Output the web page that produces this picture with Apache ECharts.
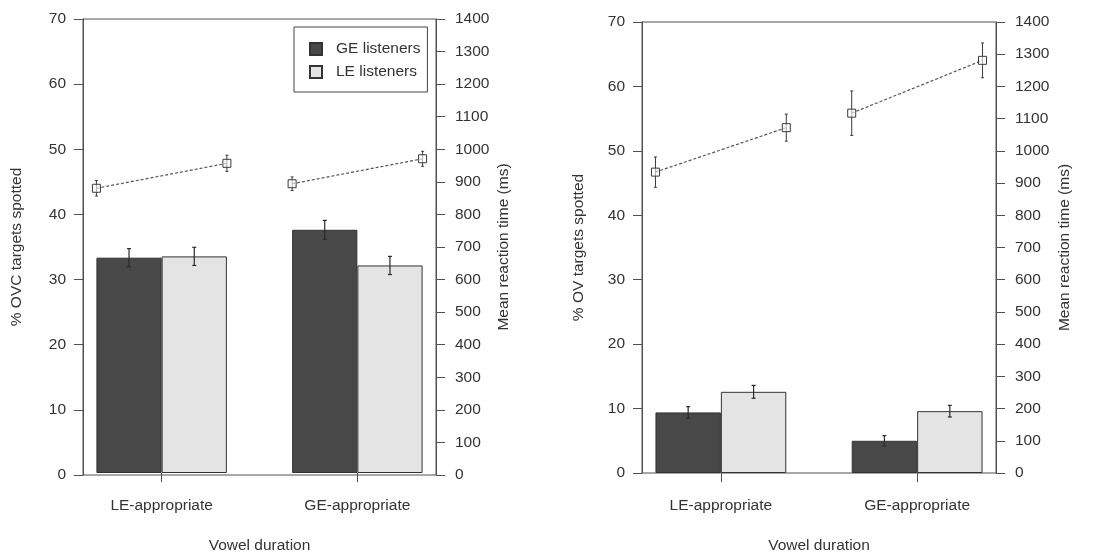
<!DOCTYPE html>
<html><head><meta charset="utf-8">
<script src="https://cdn.jsdelivr.net/npm/echarts@6/dist/echarts.min.js"></script>
<style>html,body{margin:0;padding:0;background:#fff}#c{width:1100px;height:559px}</style>
</head><body><div id="c"></div>
<script>
// ---- data ----
const categories = ['LE-appropriate', 'GE-appropriate'];
const seriesNames = ['GE listeners', 'LE listeners'];
const leftTicks = [0, 70, 10];      // min, max, interval
const rightTicks = [0, 1400, 100];

// left panel: % OVC targets spotted
const ovcGE = [33.2, 37.5];
const ovcGEErr = [1.4, 1.45];
const ovcLE = [33.4, 32.0];
const ovcLEErr = [1.4, 1.4];
const ovcRtGE = [878, 892];
const ovcRtGEErr = [24, 21];
const ovcRtLE = [955, 969];
const ovcRtLEErr = [25, 23];

// right panel: % OV targets spotted
const ovGE = [9.4, 5.0];
const ovGEErr = [0.9, 0.8];
const ovLE = [12.6, 9.6];
const ovLEErr = [1.0, 0.9];
const ovRtGE = [934, 1117];
const ovRtGEErr = [47, 69];
const ovRtLE = [1072, 1281];
const ovRtLEErr = [42, 54];

// ---- styles ----
const FONT = "'Liberation Sans', Arial, sans-serif";
const TXT = '#333';
const AX = '#505050';
const DARK = '#484848';
const LIGHT = '#e4e4e4';
const FS = 15.5;

const grids = [], xAxes = [], yAxes = [], series = [];

function panel(p) {
  const gA = grids.length;
  grids.push({left: p.boxLeft, width: p.boxWidth, top: p.top, height: p.height,
    show: true, borderColor: AX, borderWidth: 1, backgroundColor: 'transparent'});
  const gB = grids.length;
  const bandW = p.boxWidth * 391.4 / 353;
  const bLeft = p.boxLeft + p.boxWidth / 2 - bandW / 2;
  grids.push({left: bLeft, width: bandW, top: p.top, height: p.height});

  // grid A axes (visible frame axes)
  xAxes.push({type: 'category', gridIndex: gA, data: categories, show: false});
  yAxes.push({type: 'value', gridIndex: gA, position: 'left', min: leftTicks[0], max: leftTicks[1], interval: leftTicks[2],
    name: p.leftName, nameLocation: 'middle', nameRotate: 90, nameGap: p.leftGap,
    nameTextStyle: {color: TXT, fontSize: FS, fontFamily: FONT},
    axisLine: {show: true, lineStyle: {color: AX}}, axisTick: {show: true, length: 9, lineStyle: {color: AX}},
    axisLabel: {color: TXT, fontSize: FS, fontFamily: FONT, margin: 17}, splitLine: {show: false}});
  yAxes.push({type: 'value', gridIndex: gA, position: 'right', min: rightTicks[0], max: rightTicks[1], interval: rightTicks[2],
    name: 'Mean reaction time (ms)', nameLocation: 'middle', nameRotate: 90, nameGap: p.rightGap,
    nameTextStyle: {color: TXT, fontSize: FS, fontFamily: FONT},
    axisLine: {show: true, lineStyle: {color: AX}}, axisTick: {show: true, length: 9, lineStyle: {color: AX}},
    axisLabel: {color: TXT, fontSize: FS, fontFamily: FONT, margin: 19, formatter: v => String(v)}, splitLine: {show: false}});

  // grid B axes (data)
  const xB = xAxes.length;
  xAxes.push({type: 'category', gridIndex: gB, data: categories,
    name: 'Vowel duration', nameLocation: 'middle', nameGap: 65,
    nameTextStyle: {color: TXT, fontSize: FS, fontFamily: FONT},
    axisLine: {show: false}, axisTick: {show: true, alignWithLabel: true, length: 9, lineStyle: {color: AX}},
    axisLabel: {color: TXT, fontSize: FS, fontFamily: FONT, margin: 25}});
  const yB = yAxes.length;
  yAxes.push({type: 'value', gridIndex: gB, min: leftTicks[0], max: leftTicks[1], show: false, splitLine: {show: false}});
  const yBR = yAxes.length;
  yAxes.push({type: 'value', gridIndex: gB, min: rightTicks[0], max: rightTicks[1], show: false, splitLine: {show: false}});

  const barStyle = (c) => ({color: c, borderColor: '#333', borderWidth: 1});
  series.push({name: seriesNames[0], type: 'bar', xAxisIndex: xB, yAxisIndex: yB, data: p.ge,
    barWidth: '33.333%', barGap: '0%', itemStyle: barStyle(DARK), silent: true});
  series.push({name: seriesNames[1], type: 'bar', xAxisIndex: xB, yAxisIndex: yB, data: p.le,
    barWidth: '33.333%', barGap: '0%', itemStyle: barStyle(LIGHT), silent: true});

  // bar error bars
  const errData = [];
  categories.forEach((c, i) => {
    errData.push([i, p.ge[i], p.geErr[i], -1]);
    errData.push([i, p.le[i], p.leErr[i], 1]);
  });
  series.push({type: 'custom', xAxisIndex: xB, yAxisIndex: yB, data: errData, z: 5, silent: true,
    encode: {x: 0, y: 1},
    renderItem: function (params, api) {
      const idx = api.value(0), v = api.value(1), e = api.value(2), off = api.value(3);
      const band = api.size([1, 0])[0];
      const x = api.coord([idx, v])[0] + off * band / 6;
      const yt = api.coord([idx, v + e])[1], yb = api.coord([idx, v - e])[1];
      const st = {stroke: '#2a2a2a', lineWidth: 1.2};
      return {type: 'group', children: [
        {type: 'line', shape: {x1: x, y1: yt, x2: x, y2: yb}, style: st},
        {type: 'line', shape: {x1: x - 2, y1: yt, x2: x + 2, y2: yt}, style: st},
        {type: 'line', shape: {x1: x - 2, y1: yb, x2: x + 2, y2: yb}, style: st}
      ]};
    }});

  // reaction time: dashed lines, squares, error bars
  const rtData = categories.map((c, i) => [i, p.rtGE[i], p.rtGEErr[i], p.rtLE[i], p.rtLEErr[i]]);
  series.push({type: 'custom', xAxisIndex: xB, yAxisIndex: yBR, data: rtData, z: 6, silent: true,
    encode: {x: 0, y: [1, 3]},
    renderItem: function (params, api) {
      const idx = api.value(0);
      const band = api.size([1, 0])[0];
      const cx = api.coord([idx, 0])[0];
      const pts = [[cx - band / 3, api.value(1), api.value(2)], [cx + band / 3, api.value(3), api.value(4)]];
      const children = [];
      const ys = pts.map(q => api.coord([idx, q[1]])[1]);
      children.push({type: 'line', shape: {x1: pts[0][0], y1: ys[0], x2: pts[1][0], y2: ys[1]},
        style: {stroke: '#555', lineWidth: 1.2, lineDash: [3, 2]}});
      const st = {stroke: '#3a3a3a', lineWidth: 1};
      pts.forEach((q, k) => {
        const x = q[0];
        const yt = api.coord([idx, q[1] + q[2]])[1], yb = api.coord([idx, q[1] - q[2]])[1];
        children.push({type: 'line', shape: {x1: x, y1: yt, x2: x, y2: yb}, style: st});
        children.push({type: 'line', shape: {x1: x - 1.5, y1: yt, x2: x + 1.5, y2: yt}, style: st});
        children.push({type: 'line', shape: {x1: x - 1.5, y1: yb, x2: x + 1.5, y2: yb}, style: st});
        children.push({type: 'rect', shape: {x: x - 4, y: ys[k] - 4, width: 8, height: 8},
          style: {fill: 'rgba(255,255,255,0.6)', stroke: '#3a3a3a', lineWidth: 1}});
      });
      return {type: 'group', children: children};
    }});
}

panel({boxLeft: 83, boxWidth: 353, top: 19, height: 456, leftName: '% OVC targets spotted', leftGap: 58, rightGap: 60,
  ge: ovcGE, geErr: ovcGEErr, le: ovcLE, leErr: ovcLEErr,
  rtGE: ovcRtGE, rtGEErr: ovcRtGEErr, rtLE: ovcRtLE, rtLEErr: ovcRtLEErr});
panel({boxLeft: 642, boxWidth: 354, top: 22, height: 451, leftName: '% OV targets spotted', leftGap: 55, rightGap: 61,
  ge: ovGE, geErr: ovGEErr, le: ovLE, leErr: ovLEErr,
  rtGE: ovRtGE, rtGEErr: ovRtGEErr, rtLE: ovRtLE, rtLEErr: ovRtLEErr});

const chart = echarts.init(document.getElementById('c'), null, {renderer: 'canvas'});
chart.setOption({
  animation: false,
  backgroundColor: '#fff',
  textStyle: {fontFamily: FONT},
  legend: {
    data: seriesNames.map(n => ({name: n, icon: 'rect'})), orient: 'vertical', left: 294, top: 27,
    borderColor: '#444', borderWidth: 1, borderRadius: 0,
    padding: [14, 7, 12, 15], itemWidth: 12, itemHeight: 12, itemGap: 7,
    selectedMode: false,
    textStyle: {color: TXT, fontSize: FS, fontFamily: FONT, padding: [0, 0, 0, 9]}
  },
  grid: grids, xAxis: xAxes, yAxis: yAxes, series: series
});
</script>
</body></html>
